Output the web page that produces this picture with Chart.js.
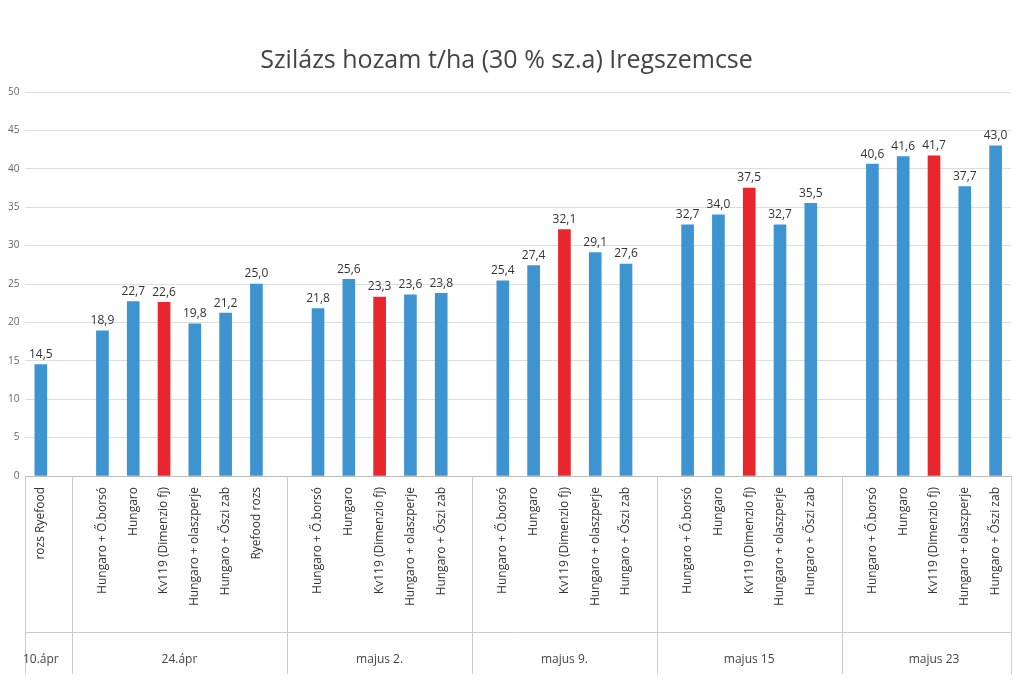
<!DOCTYPE html>
<html>
<head>
<meta charset="utf-8">
<script src="https://cdn.jsdelivr.net/npm/chart.js@4"></script>
<style>
  html, body { margin: 0; background: #fff; }
  #wrap { width: 1021px; height: 681px; }
</style>
</head>
<body>
<div id="wrap"><canvas id="c" width="1021" height="681"></canvas></div>
<script>
// one slot per bar, empty slots separate the date groups
const labels = ['rozs Ryefood', '',
  'Hungaro + Ő.borsó', 'Hungaro', 'Kv119 (Dimenzio fj)', 'Hungaro + olaszperje', 'Hungaro + Őszi zab', 'Ryefood rozs', '',
  'Hungaro + Ő.borsó', 'Hungaro', 'Kv119 (Dimenzio fj)', 'Hungaro + olaszperje', 'Hungaro + Őszi zab', '',
  'Hungaro + Ő.borsó', 'Hungaro', 'Kv119 (Dimenzio fj)', 'Hungaro + olaszperje', 'Hungaro + Őszi zab', '',
  'Hungaro + Ő.borsó', 'Hungaro', 'Kv119 (Dimenzio fj)', 'Hungaro + olaszperje', 'Hungaro + Őszi zab', '',
  'Hungaro + Ő.borsó', 'Hungaro', 'Kv119 (Dimenzio fj)', 'Hungaro + olaszperje', 'Hungaro + Őszi zab'];
const values = [14.5, null,
  18.9, 22.7, 22.6, 19.8, 21.2, 25.0, null,
  21.8, 25.6, 23.3, 23.6, 23.8, null,
  25.4, 27.4, 32.1, 29.1, 27.6, null,
  32.7, 34.0, 37.5, 32.7, 35.5, null,
  40.6, 41.6, 41.7, 37.7, 43.0];
const groupNames = ['10.ápr', '24.ápr', 'majus 2.', 'majus 9.', 'majus 15', 'majus 23'];
const groupStart = [0, 2, 9, 15, 21, 27];
const groupEnd = [0, 7, 13, 19, 25, 31];

const colors = labels.map(l => l.startsWith('Kv119') ? '#e8262b' : '#3d94d1');

const extras = {
  id: 'extras',
  afterDatasetsDraw(chart) {
    const ctx = chart.ctx;
    const x = chart.scales.x, y = chart.scales.y;
    const meta = chart.getDatasetMeta(0);
    ctx.save();
    ctx.font = '12px "Open Sans", sans-serif';
    ctx.fillStyle = '#333';
    ctx.textAlign = 'center';
    ctx.textBaseline = 'bottom';
    values.forEach((v, i) => {
      if (v == null) return;
      const b = meta.data[i];
      ctx.fillText(v.toFixed(1).replace('.', ','), b.x, b.y - 4);
    });
    // group separators and names
    const bottom = y.bottom;
    ctx.strokeStyle = '#ccc';
    ctx.lineWidth = 1;
    const seps = [x.left, x.right];
    for (let g = 0; g < groupStart.length - 1; g++) {
      seps.push((x.getPixelForValue(groupEnd[g]) + x.getPixelForValue(groupStart[g + 1])) / 2);
    }
    seps.forEach(sx => {
      ctx.beginPath();
      ctx.moveTo(Math.round(sx) + 0.5, bottom);
      ctx.lineTo(Math.round(sx) + 0.5, 674);
      ctx.stroke();
    });
    ctx.beginPath();
    ctx.moveTo(x.left, 632.5);
    ctx.lineTo(x.right, 632.5);
    ctx.stroke();
    ctx.textBaseline = 'middle';
    ctx.fillStyle = '#444';
    groupNames.forEach((n, g) => {
      const cx = (x.getPixelForValue(groupStart[g]) + x.getPixelForValue(groupEnd[g])) / 2;
      ctx.fillText(n, cx, 660);
    });
    ctx.restore();
  }
};

new Chart(document.getElementById('c').getContext('2d'), {
  type: 'bar',
  data: {
    labels: labels,
    datasets: [{ data: values, backgroundColor: colors, barThickness: 12 }]
  },
  options: {
    responsive: false,
    animation: false,
    layout: { padding: { left: 2, right: 10, top: 10, bottom: 72 } },
    plugins: {
      legend: { display: false },
      tooltip: { enabled: false },
      title: {
        display: true,
        text: 'Szilázs hozam t/ha (30 % sz.a) Iregszemcse',
        font: { size: 25, family: '"Open Sans", sans-serif', weight: 'normal' },
        color: '#444',
        padding: { top: 36, bottom: 16 }
      }
    },
    scales: {
      x: {
        grid: { display: false },
        border: { color: '#bbb' },
        ticks: {
          autoSkip: false, minRotation: 90, maxRotation: 90,
          font: { size: 12, family: '"Open Sans", sans-serif' }, color: '#333'
        }
      },
      y: {
        min: 0, max: 50,
        grid: { color: '#ddd', drawTicks: false },
        border: { display: false },
        ticks: { stepSize: 5, padding: 6, font: { size: 10, family: '"Open Sans", sans-serif' }, color: '#666' }
      }
    }
  },
  plugins: [extras]
});
</script>
</body>
</html>
